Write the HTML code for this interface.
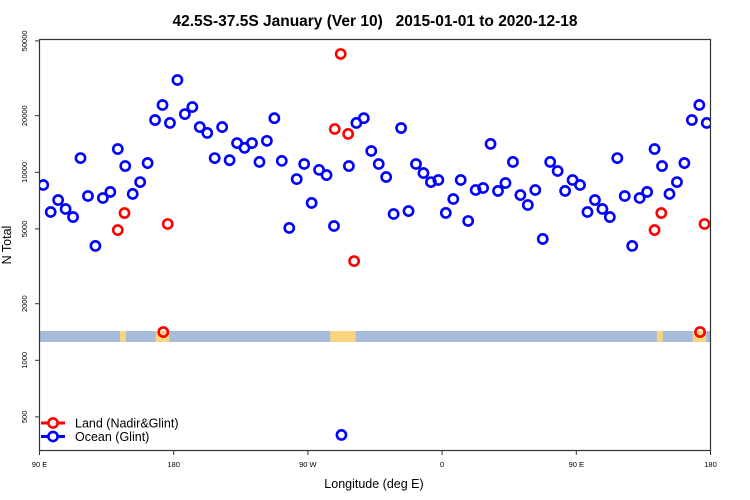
<!DOCTYPE html>
<html><head><meta charset="utf-8"><style>
body{margin:0;background:#fff;}
svg{display:block;font-family:"Liberation Sans",sans-serif;}
</style></head><body>
<svg id="chart" width="750" height="500" viewBox="0 0 750 500">
<defs><clipPath id="plotclip"><rect x="39.5" y="39.5" width="671" height="411"/></clipPath></defs>
<text x="375" y="26" text-anchor="middle" font-size="15.5" font-weight="bold" style="white-space:pre">42.5S-37.5S January (Ver 10)   2015-01-01 to 2020-12-18</text>
<g id="band" clip-path="url(#plotclip)"></g>
<g id="pts" clip-path="url(#plotclip)"></g>
<rect x="39.5" y="39.5" width="671" height="411" fill="none" stroke="#333" stroke-width="1.2"/>
<g id="axes"></g>
<text x="374" y="488" text-anchor="middle" font-size="12.5">Longitude (deg E)</text>
<text transform="translate(11,245) rotate(-90)" text-anchor="middle" font-size="12.5">N Total</text>
<g>
<line x1="41" y1="423" x2="65" y2="423" stroke="#f00" stroke-width="3"/>
<circle cx="53" cy="423" r="4.6" fill="#fff" stroke="#f00" stroke-width="2.6"/>
<text x="75" y="427.5" font-size="12.5">Land (Nadir&amp;Glint)</text></g>
<g>
<line x1="41" y1="436.5" x2="65" y2="436.5" stroke="#00f" stroke-width="3"/>
<circle cx="53" cy="436.5" r="4.6" fill="#fff" stroke="#00f" stroke-width="2.6"/>
<text x="75" y="441" font-size="12.5">Ocean (Glint)</text></g>
</svg>
<script>
const oceanLon = [];
for (let i = 0; i < 72; i++) { const u = 92.5 + 5 * i; oceanLon.push(u > 180 ? u - 360 : u); }
const oceanVal = [8560,6150,7120,6380,5780,11900,7480,4060,7300,7860,13300,10800,7670,8870,11200,18970,22800,18300,30970,20400,22250,17400,16200,11900,17400,11600,14300,13500,14300,11350,14700,19400,11500,5060,9200,11070,6870,10300,9670,5180,401,10800,18300,19400,12980,11070,9440,6000,17200,6220,11070,9910,8870,9100,6080,7210,9100,5510,8050,8250,14160,7960,8770,11350,7570,6700,8050,4420,11350,10160,7960,9100];
const landLon = [142.5,147,173,176,-72,-68,-63,-59];
const landVal = [4930,6070,1413,5310,17000,42600,16000,3370];
const xTickLabels = ["90 E","180","90 W","0","90 E","180"];
const xTickLon = [90,180,270,360,450,540];
const yTicks = [500,1000,2000,5000,10000,20000,50000];
const landSpans = [[144,148],[168,177],[-75,-58]];

const NS = "http://www.w3.org/2000/svg";
function X(lonU){ return 39.5 + (lonU - 90) * 1.4911; }
function Y(v){ return 172.3 - (Math.log10(v) - 4) * 188; }
function unwrap(l){ const list=[]; let u = l < 90 ? l + 360 : l; list.push(u); if (u + 360 <= 540) list.push(u + 360); return list; }
function mk(tag, attrs, parent){ const e=document.createElementNS(NS,tag); for(const k in attrs) e.setAttribute(k,attrs[k]); parent.appendChild(e); return e; }

const band = document.getElementById('band');
const bg = mk('rect',{x:39.5,y:331,width:671,height:11,fill:'#a7bcda'},band);


landSpans.forEach(s=>{ unwrap(s[0]).forEach(u=>{
  const r = mk('rect',{x:X(u),y:331,width:(s[1]-s[0])*1.4911,height:11,fill:'#f8d57e'},band);
  
  
});});

const pts = document.getElementById('pts');
oceanLon.forEach((l,i)=>{ unwrap(l).forEach(u=>{
  const c = mk('circle',{cx:X(u),cy:Y(oceanVal[i]),r:4.6,fill:'none',stroke:'#00f','stroke-width':2.6},pts);
  
  
});});
landLon.forEach((l,i)=>{ unwrap(l).forEach(u=>{
  const c = mk('circle',{cx:X(u),cy:Y(landVal[i]),r:4.6,fill:'none',stroke:'#f00','stroke-width':2.6},pts);
  
  
});});

const axes = document.getElementById('axes');
xTickLon.forEach((u,i)=>{ const x = X(u);
  mk('line',{x1:x,y1:450.5,x2:x,y2:455,stroke:'#333'},axes);
  const t = mk('text',{x:x,y:467,'text-anchor':'middle','font-size':'7.5'},axes);
  t.textContent = xTickLabels[i];
  
  
});
yTicks.forEach(v=>{ const y = Y(v);
  mk('line',{x1:35,y1:y,x2:39.5,y2:y,stroke:'#333'},axes);
  const t = mk('text',{transform:`translate(27,${y}) rotate(-90)`,'text-anchor':'middle','font-size':'7.5'},axes);
  t.textContent = String(v);
  
  
});
</script>
</body></html>
